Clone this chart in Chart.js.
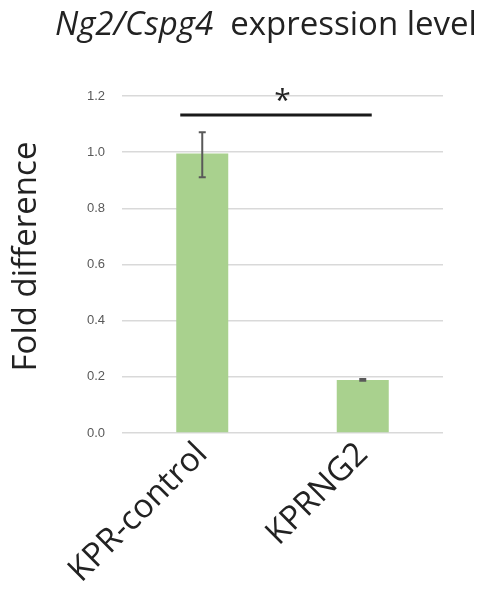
<!DOCTYPE html>
<html>
<head>
<meta charset="utf-8">
<script src="https://cdn.jsdelivr.net/npm/chart.js@4.4.1/dist/chart.umd.min.js"></script>
<style>
  html, body { margin: 0; padding: 0; background: #fff; }
  #wrap { position: relative; width: 485px; height: 591px; }
  #title { position: absolute; left: 55px; top: 0px; font-family: "Open Sans", sans-serif; font-size: 33px; line-height: 45px; color: #222; white-space: nowrap; }
  canvas { position: absolute; left: 0; top: 0; }
</style>
</head>
<body>
<div id="wrap">
  <canvas id="c" width="485" height="591"></canvas>
  <div id="title"><i>Ng2/Cspg4</i>&nbsp; expression level</div>
</div>
<script>
const categories = ["KPR-control", "KPRNG2"];
const values = [0.995, 0.189];
const errLow = [0.911, 0.186];
const errHigh = [1.071, 0.192];
const yTicks = [0.0, 0.2, 0.4, 0.6, 0.8, 1.0, 1.2];
const yTitle = "Fold difference";
const sigFrom = -0.137, sigTo = 1.056, sigLevel = 1.132;
const starPos = 0.5, starLevel = 1.2, starText = "*";

const extras = {
  id: 'extras',
  afterDraw(chart) {
    const ctx = chart.ctx, x = chart.scales.x, y = chart.scales.y;
    ctx.save();
    ctx.strokeStyle = '#595959';
    ctx.lineWidth = 2;
    values.forEach((v, i) => {
      const px = x.getPixelForValue(i);
      const y1 = y.getPixelForValue(errLow[i]), y2 = y.getPixelForValue(errHigh[i]);
      ctx.beginPath();
      ctx.moveTo(px, y1); ctx.lineTo(px, y2);
      ctx.moveTo(px - 3.5, y1); ctx.lineTo(px + 3.5, y1);
      ctx.moveTo(px - 3.5, y2); ctx.lineTo(px + 3.5, y2);
      ctx.stroke();
    });
    ctx.strokeStyle = '#1a1a1a';
    ctx.lineWidth = 3;
    ctx.beginPath();
    const sy = y.getPixelForValue(sigLevel);
    ctx.moveTo(x.getPixelForValue(sigFrom), sy);
    ctx.lineTo(x.getPixelForValue(sigTo), sy);
    ctx.stroke();
    ctx.fillStyle = '#222';
    ctx.font = '30px "Open Sans", sans-serif';
    ctx.textAlign = 'center';
    ctx.textBaseline = 'middle';
    ctx.fillText(starText, x.getPixelForValue(starPos), y.getPixelForValue(starLevel) + 5);
    // y axis title
    ctx.translate(27, (y.getPixelForValue(1.2) + y.getPixelForValue(0)) / 2 - 8);
    ctx.rotate(-Math.PI / 2);
    ctx.font = '33px "Open Sans", sans-serif';
    ctx.fillText(yTitle, 0, 0);
    ctx.restore();
  }
};

new Chart(document.getElementById('c'), {
  type: 'bar',
  data: {
    labels: categories,
    datasets: [{
      data: values,
      backgroundColor: '#a9d18e',
      borderWidth: 0,
      barPercentage: 0.9,
      categoryPercentage: 0.36
    }]
  },
  options: {
    responsive: false,
    animation: false,
    layout: { padding: { top: 96, right: 42, left: 0, bottom: 0 } },
    plugins: { legend: { display: false }, tooltip: { enabled: false }, title: { display: false } },
    scales: {
      x: {
        grid: { display: false, drawTicks: false },
        border: { display: false },
        ticks: {
          minRotation: 45, maxRotation: 45,
          color: '#222',
          font: { family: '"Open Sans", sans-serif', size: 33 },
          padding: 2
        },
        afterFit(s) { s.height = 158; }
      },
      y: {
        min: 0, max: 1.2,
        afterBuildTicks(s) { s.ticks = yTicks.map(v => ({ value: v })); },
        grid: { color: '#d9d9d9', lineWidth: 1.5, drawTicks: false },
        border: { display: false },
        ticks: {
          color: '#595959',
          font: { family: '"Liberation Sans Narrow", "Liberation Sans", sans-serif', size: 13 },
          padding: 17,
          callback: v => Number(v).toFixed(1)
        },
        afterFit(s) { s.width = 122; }
      }
    }
  },
  plugins: [extras]
});
</script>
</body>
</html>
